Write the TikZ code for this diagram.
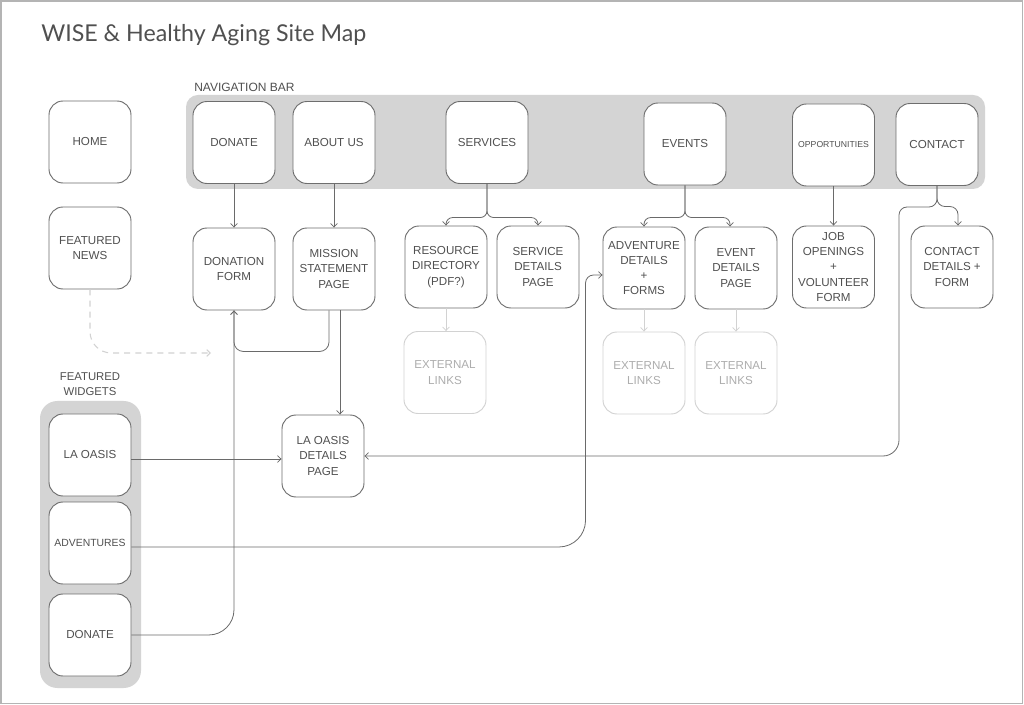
\documentclass[tikz,border=0pt]{standalone}
\usepackage{fontspec}
\setmainfont{Liberation Sans}
\newfontfamily\titlefont{Lato}
\usetikzlibrary{arrows.meta,calc}
\definecolor{boxc}{HTML}{6E6E6E}
\definecolor{txtc}{HTML}{505050}
\definecolor{lightc}{HTML}{D2D2D2}
\definecolor{lighttxt}{HTML}{ADADAD}
\definecolor{groupc}{HTML}{D4D4D4}
\definecolor{framec}{HTML}{B4B4B4}
\definecolor{linec}{HTML}{6A6A6A}
\tikzset{
  x=0.75pt, y=-0.75pt,
  pagebox/.style={draw=boxc, line width=0.7pt, fill=white, rounded corners=10.5pt,
    minimum width=61.5pt, minimum height=61.5pt, inner sep=1pt, align=center,
    text=txtc, font=\fontsize{8.7}{11.4}\selectfont},
  extbox/.style={pagebox, draw=lightc, text=lighttxt},
  groupbg/.style={fill=groupc, draw=none},
  conn/.style={draw=linec, line width=0.6pt, -{Straight Barb[length=2.6pt,width=5pt]}},
  lightconn/.style={conn, draw=lightc},
  dashconn/.style={conn, draw=lightc, dash pattern=on 4.5pt off 3.8pt, line width=0.8pt},
  grouplabel/.style={text=txtc, font=\fontsize{8.5}{11.4}\selectfont, align=center, inner sep=0pt}
}
\begin{document}
\begin{tikzpicture}
\useasboundingbox (0,0) rectangle (1024,705);
\fill[white] (0,0) rectangle (1024,705);
\draw[framec, line width=1.3pt] (1,1) rectangle (1022.5,703.5);

% title
\node[anchor=west, text=txtc, font=\titlefont\fontsize{17.4}{21}\selectfont, inner sep=0pt] (title) at (41,35) {WISE \& Healthy Aging Site Map};

% group backgrounds
\fill[groupbg, rounded corners=9pt] (186,95) rectangle (985,189);
\node[grouplabel, anchor=west, font=\fontsize{9}{11}\selectfont] (navlabel) at (194,87) {NAVIGATION BAR};
\fill[groupbg, rounded corners=13pt] (40,401) rectangle (141,688);
\node[grouplabel] (fwlabel) at (90,384) {FEATURED\\WIDGETS};

% left column
\node[pagebox] (home) at (90,142) {HOME};
\node[pagebox] (fnews) at (90,248) {FEATURED\\NEWS};
\node[pagebox] (wlaoasis) at (90,455) {LA OASIS};
\node[pagebox, font=\fontsize{7.8}{11}\selectfont] (wadv) at (90,543) {ADVENTURES};
\node[pagebox] (wdonate) at (90,635) {DONATE};

% navigation bar
\node[pagebox] (donate) at (234,142.5) {DONATE};
\node[pagebox] (about) at (334,142.5) {ABOUT US};
\node[pagebox] (services) at (487,142.5) {SERVICES};
\node[pagebox] (events) at (685,144) {EVENTS};
\node[pagebox, font=\fontsize{6.5}{8}\selectfont] (opps) at (833.5,145) {OPPORTUNITIES};
\node[pagebox] (contact) at (937,144.5) {CONTACT};

% second row
\node[pagebox] (donform) at (234,269) {DONATION\\FORM};
\node[pagebox] (mission) at (334,269) {MISSION\\STATEMENT\\PAGE};
\node[pagebox] (resdir) at (446,267) {RESOURCE\\DIRECTORY\\(PDF?)};
\node[pagebox] (servdet) at (538,267) {SERVICE\\DETAILS\\PAGE};
\node[pagebox] (advdet) at (644,268) {ADVENTURE\\DETAILS\\+\\FORMS};
\node[pagebox] (evdet) at (736,268) {EVENT\\DETAILS\\PAGE};
\node[pagebox] (jobs) at (833.5,267) {JOB\\OPENINGS\\+\\VOLUNTEER\\FORM};
\node[pagebox] (cdet) at (952,267) {CONTACT\\DETAILS +\\FORM};

% external links
\node[extbox] (ext1) at (445,372.5) {EXTERNAL\\LINKS};
\node[extbox] (ext2) at (644,373) {EXTERNAL\\LINKS};
\node[extbox] (ext3) at (736,373) {EXTERNAL\\LINKS};

% la oasis details
\node[pagebox] (ladet) at (323,456) {LA OASIS\\DETAILS\\PAGE};

% connectors: nav bar to pages
\draw[conn] (donate) -- (donform);
\draw[conn] (about) -- (mission);
\draw[conn] (opps) -- (jobs);
\draw[conn, rounded corners=5pt] (services.south) |- ($(resdir.north)+(0,-8)$) -- (resdir.north);
\draw[conn, rounded corners=5pt] (services.south) |- ($(servdet.north)+(0,-8)$) -- (servdet.north);
\draw[conn, rounded corners=5pt] (events.south) |- ($(advdet.north)+(0,-9)$) -- (advdet.north);
\draw[conn, rounded corners=5pt] (events.south) |- ($(evdet.north)+(-6,-9)$) -- ($(evdet.north)+(-6,0)$);
\draw[conn, rounded corners=6pt] (contact.south) |- ($(cdet.north)+(6,-19)$) -- ($(cdet.north)+(6,0)$);
\coordinate (cturn) at (899,207);
\draw[conn, rounded corners=6pt] (contact.south) |- (cturn) [rounded corners=12pt] |- (ladet.east);

% external
\draw[lightconn] (resdir.south) -- (resdir.south |- ext1.north);
\draw[lightconn] (advdet.south) -- (advdet.south |- ext2.north);
\draw[lightconn] (evdet.south) -- (evdet.south |- ext3.north);

% mission
\coordinate (mr) at ($(mission.south)+(6,0)$);
\coordinate (ml) at ($(mission.south)+(-5,0)$);
\coordinate (dfb) at ($(donform.south)+(0,41)$);
\draw[conn] (mr) -- (mr |- ladet.north);
\draw[conn, rounded corners=7pt] (ml) |- (dfb) -- (donform.south);

% widgets
\coordinate (wl) at ($(wlaoasis.east)+(0,4)$);
\draw[conn] (wl) -- (wl -| ladet.west);
\draw[conn, rounded corners=19pt] (wdonate.east) -| (donform.south);
\coordinate (wa) at ($(wadv.east)+(0,4)$);
\coordinate (a1) at ($(advdet.west)+(-17,7)$);
\coordinate (a0) at ($(advdet.west)+(-17,60)$);
\coordinate (a2) at ($(advdet.west)+(0,7)$);
\draw[conn] (wa) [rounded corners=20pt] -| (a0) [rounded corners=6pt] -- (a1) -- (a2);

% featured news dashed
\coordinate (fnend) at (211,353);
\draw[dashconn, rounded corners=16pt] (fnews.south) |- (fnend);
\end{tikzpicture}
\end{document}
